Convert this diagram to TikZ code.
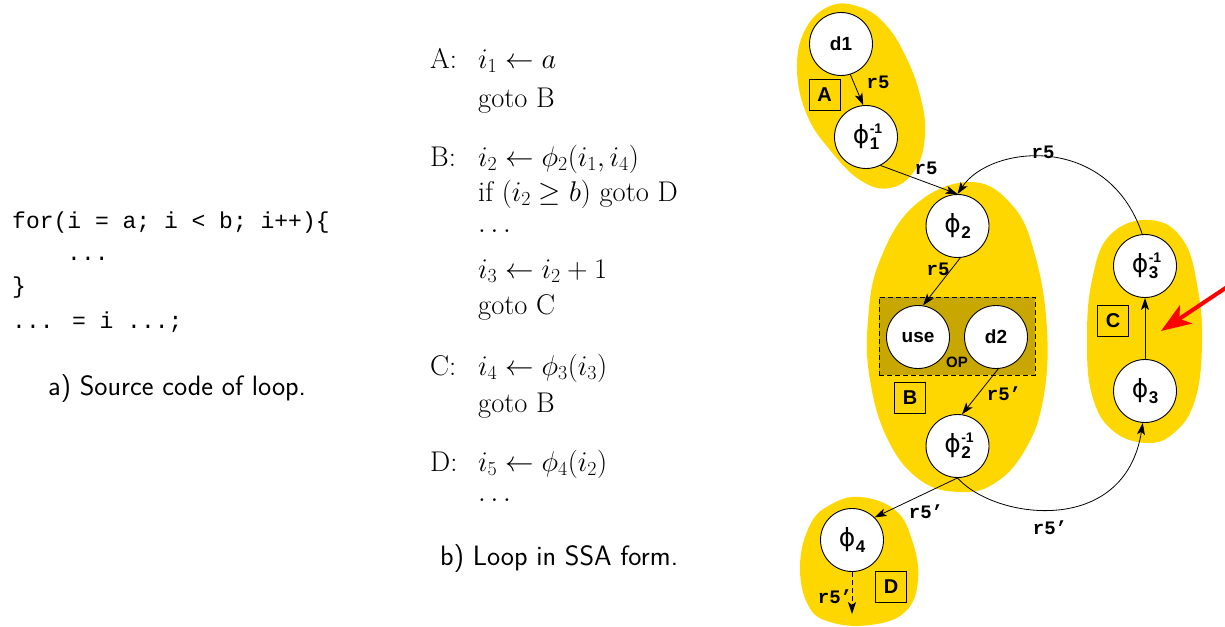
\RequirePackage{fix-cm}
\documentclass[tikz,border=0pt]{standalone}
\usepackage{fontspec}
\usetikzlibrary{arrows.meta}
\newfontfamily\hv{Liberation Sans}
\newfontfamily\dv{DejaVu Sans}
\newfontfamily\cour{Liberation Mono}
\definecolor{gold}{HTML}{FFD700}
\definecolor{darkgold}{HTML}{C8A800}
\newcommand\phic{{\fontsize{25}{25}\selectfont\dv\mdseries\symbol{"03D5}}}
\newcommand\phisub[1]{\phic\kern0.5pt\raisebox{-6pt}{\fontsize{17}{17}\selectfont\hv\bfseries #1}}
\newcommand\phiinv[1]{\phic\kern0.5pt\rlap{\raisebox{10pt}{\fontsize{14}{14}\selectfont\hv\bfseries -1}}\raisebox{-6pt}{\fontsize{17}{17}\selectfont\hv\bfseries #1}}
\begin{document}
\begin{tikzpicture}[x=1pt,y=-1pt,
  circ/.style={circle,draw,fill=white,minimum size=63pt,inner sep=0pt,line width=0.9pt,font=\fontsize{19}{19}\selectfont\hv\bfseries},
  lbox/.style={draw,minimum size=31pt,inner sep=0pt,line width=0.9pt,font=\fontsize{20}{20}\selectfont\hv\bfseries},
  elab/.style={font=\fontsize{19}{19}\selectfont\cour\bfseries,inner sep=0pt},
  conn/.style={line width=0.8pt,-{Stealth[length=12pt,width=8pt,inset=3pt]}},
  code/.style={anchor=base west,inner sep=0pt,font=\fontsize{23}{27}\selectfont\cour},
  ssa/.style={anchor=base west,inner sep=0pt,font=\fontsize{28.5}{33}\selectfont},
  capt/.style={anchor=base west,inner sep=0pt,font=\fontsize{28}{33}\selectfont\sffamily}]
\useasboundingbox (0,0) rectangle (1225,626);

% source code
\node[code] (c1) at (12,228) {for(i = a; i < b; i++)\{};
\node[code] (c2) at (67,260) {...};
\node[code] (c3) at (12,293) {\}};
\node[code] (c4) at (12,328) {... = i ...;};
\node[capt] (capa) at (48,395) {a) Source code of loop.};

% SSA
\node[ssa] (sA) at (430,68) {A:};
\node[ssa] (sA1) at (478,68) {$i_1 \leftarrow a$};
\node[ssa] (sA2) at (478,107) {goto B};
\node[ssa] (sB) at (430,166) {B:};
\node[ssa] (sB1) at (478,166) {$i_2 \leftarrow \phi_2(i_1, i_4)$};
\node[ssa] (sB2) at (478,201) {if $(i_2 \geq b)$ goto D};
\node[ssa] (sB3) at (478,232) {$\ldots$};
\node[ssa] (sB4) at (478,278) {$i_3 \leftarrow i_2 + 1$};
\node[ssa] (sB5) at (478,314) {goto C};
\node[ssa] (sC) at (430,375) {C:};
\node[ssa] (sC1) at (478,375) {$i_4 \leftarrow \phi_3(i_3)$};
\node[ssa] (sC2) at (478,412) {goto B};
\node[ssa] (sD) at (430,471) {D:};
\node[ssa] (sD1) at (478,471) {$i_5 \leftarrow \phi_4(i_2)$};
\node[ssa] (sD2) at (478,501) {$\ldots$};
\node[capt] (capb) at (440,565) {b) Loop in SSA form.};

% blobs
\fill[gold] plot[smooth cycle,tension=0.7] coordinates {(797,70) (805,30) (830,6) (860,7) (885,24) (905,55) (920,95) (925,135) (915,170) (890,188) (860,180) (830,150) (807,115)};
\fill[gold] plot[smooth cycle,tension=0.7] coordinates {(970,182) (1012,205) (1035,255) (1047,330) (1043,400) (1025,450) (995,483) (960,492) (920,480) (888,440) (870,380) (868,320) (880,260) (915,205)};
\fill[gold] plot[smooth cycle,tension=0.7] coordinates {(1150,220) (1183,240) (1198,290) (1202,345) (1195,400) (1175,432) (1147,443) (1112,430) (1092,395) (1087,340) (1092,280) (1110,235)};
\fill[gold] plot[smooth cycle,tension=0.7] coordinates {(860,497) (895,510) (912,540) (918,580) (905,612) (870,625) (830,622) (808,605) (800,565) (810,525) (830,505)};

% OP box
\node[draw,dash pattern=on 5pt off 3pt,fill=darkgold,line width=0.8pt,minimum width=156pt,minimum height=78pt,inner sep=0pt] (op) at (957,336) {};
\node[font=\fontsize{15}{15}\selectfont\hv\bfseries,inner sep=0pt] (oplab) at (957,362) {OP};

% nodes
\node[circ] (d1) at (841,44) {d1};
\node[circ] (phi1i) at (866,137) {\phiinv{1}};
\node[circ] (phi2) at (957.5,226) {\phisub{2}};
\node[circ] (use) at (918,337) {use};
\node[circ] (d2) at (996,337) {d2};
\node[circ] (phi2i) at (957.5,446) {\phiinv{2}};
\node[circ] (phi3i) at (1145,266) {\phiinv{3}};
\node[circ] (phi3) at (1145,391) {\phisub{3}};
\node[circ] (phi4) at (852,540) {\phisub{4}};

% block labels
\node[lbox] (bA) at (824.5,94.5) {A};
\node[lbox] (bB) at (910,398) {B};
\node[lbox] (bC) at (1113,321) {C};
\node[lbox] (bD) at (891,587) {D};

% connectors
\draw[conn] (d1.-73) -- (phi1i.95);
\draw[conn] (phi1i.-63) -- (phi2.north);
\draw[conn] (phi3i.95) .. controls (1108,132) and (990,145) .. (phi2.north);
\draw[conn] (phi2.-85) -- (use.81);
\draw[conn] (d2.-86) -- (phi2i.82);
\draw[conn] (phi2i.south) -- (phi4.45);
\draw[conn] (phi2i.south) .. controls (995,520) and (1125,537) .. (phi3.-94);
\draw[conn] (phi3.north) -- (phi3i.south);
\coordinate (d4out) at (852,614);
\draw[conn,dash pattern=on 5pt off 3pt] (phi4.south) -- (d4out);

% edge labels
\node[elab] (l1) at (878,82) {r5};
\node[elab] (l2) at (926,168) {r5};
\node[elab] (l3) at (1043,152) {r5};
\node[elab] (l4) at (938,269) {r5};
\node[elab] (l5) at (1004,394) {r5’};
\node[elab] (l6) at (926,512) {r5’};
\node[elab] (l7) at (1050,528) {r5’};
\node[elab] (l8) at (835,597) {r5’};

% red arrow
\coordinate (redtail) at (1245,275);
\coordinate (redtip) at (1161,331);
\draw[red,line width=4pt,-{Stealth[length=30pt,width=22pt,inset=8pt]}] (redtail) -- (redtip);
\end{tikzpicture}
\end{document}
